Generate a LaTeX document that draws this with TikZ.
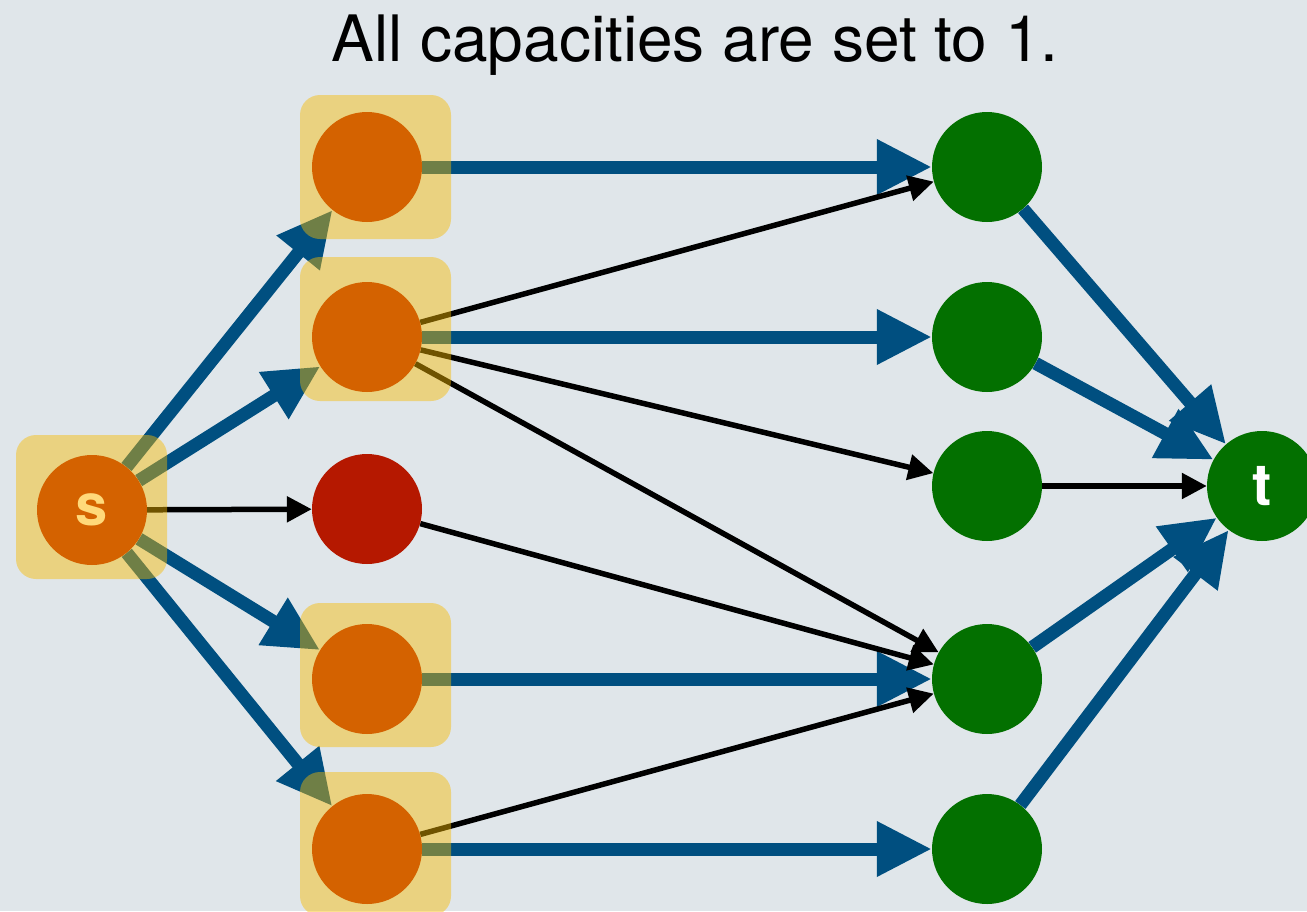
\documentclass[tikz,border=0pt]{standalone}
\usepackage{fontspec}
\setmainfont{TeX Gyre Heros}
\usetikzlibrary{arrows.meta}
\definecolor{bgcol}{RGB}{224,230,234}
\definecolor{flowblue}{RGB}{0,79,128}
\definecolor{srcorange}{RGB}{212,98,0}
\definecolor{deadred}{RGB}{181,24,0}
\definecolor{sinkgreen}{RGB}{3,112,0}
\definecolor{hlyellow}{RGB}{248,186,0}
\definecolor{slabel}{RGB}{255,217,122}
\pgfdeclarelayer{backdrop}
\pgfdeclarelayer{edges}
\pgfdeclarelayer{boxes}
\pgfsetlayers{backdrop,edges,boxes,main}
\tikzset{
  vtx/.style={circle, minimum size=110pt, inner sep=0pt, draw=none},
  lft/.style={vtx, fill=srcorange},
  rgt/.style={vtx, fill=sinkgreen},
  flow/.style={line width=13pt, draw=flowblue, -{Triangle[length=55pt,width=52pt]}},
  plain/.style={line width=5.5pt, draw=black, -{Triangle[length=25pt,width=25pt]}},
  hilite/.style={fill=hlyellow, fill opacity=0.45, rounded corners=20pt},
  vlabel/.style={font=\fontsize{58}{58}\selectfont\bfseries}
}
\begin{document}
\begin{tikzpicture}[x=1pt,y=-1pt]
  \begin{pgfonlayer}{backdrop}
    \fill[bgcol] (0,0) rectangle (1307,911);
  \end{pgfonlayer}
  \useasboundingbox (0,0) rectangle (1307,911);

  \node[anchor=base] (title) at (695,61) {\fontsize{64}{64}\selectfont All capacities are set to 1.};

  % vertices
  \node[lft, text=slabel, vlabel] (s) at (92,510) {s};
  \node[lft] (o1) at (367,167) {};
  \node[lft] (o2) at (367,337) {};
  \node[vtx, fill=deadred] (r) at (367,509) {};
  \node[lft] (o4) at (367,679) {};
  \node[lft] (o5) at (367,849) {};
  \node[rgt] (g1) at (987,167) {};
  \node[rgt] (g2) at (987,337) {};
  \node[rgt] (g3) at (987,486) {};
  \node[rgt] (g4) at (987,679) {};
  \node[rgt] (g5) at (987,849) {};
  \node[rgt, text=white, vlabel] (t) at (1262,486) {t};

  % highlighted matched vertices
  \begin{pgfonlayer}{boxes}
    \fill[hilite] (16,435) rectangle (167,579);
    \fill[hilite] (300,95) rectangle (451,239);
    \fill[hilite] (300,257) rectangle (451,401);
    \fill[hilite] (300,603) rectangle (451,747);
    \fill[hilite] (300,772) rectangle (451,916);
  \end{pgfonlayer}

  \begin{pgfonlayer}{edges}
    % flow-carrying edges
    \draw[flow] (s) -- (o1);
    \draw[flow] (s) -- (o2);
    \draw[flow] (s) -- (o4);
    \draw[flow] (s) -- (o5);
    \draw[flow] (o1) -- (g1);
    \draw[flow] (o2) -- (g2);
    \draw[flow] (o4) -- (g4);
    \draw[flow] (o5) -- (g5);
    \draw[flow] (g1) -- (t);
    \draw[flow] (g2) -- (t);
    \draw[flow] (g4) -- (t);
    \draw[flow] (g5) -- (t);
    % remaining edges
    \draw[plain] (s) -- (r);
    \draw[plain] (o2) -- (g1);
    \draw[plain] (o2) -- (g3);
    \draw[plain] (o2) -- (g4);
    \draw[plain] (r) -- (g4);
    \draw[plain] (o5) -- (g4);
    \draw[plain] (g3) -- (t);
  \end{pgfonlayer}
\end{tikzpicture}
\end{document}
